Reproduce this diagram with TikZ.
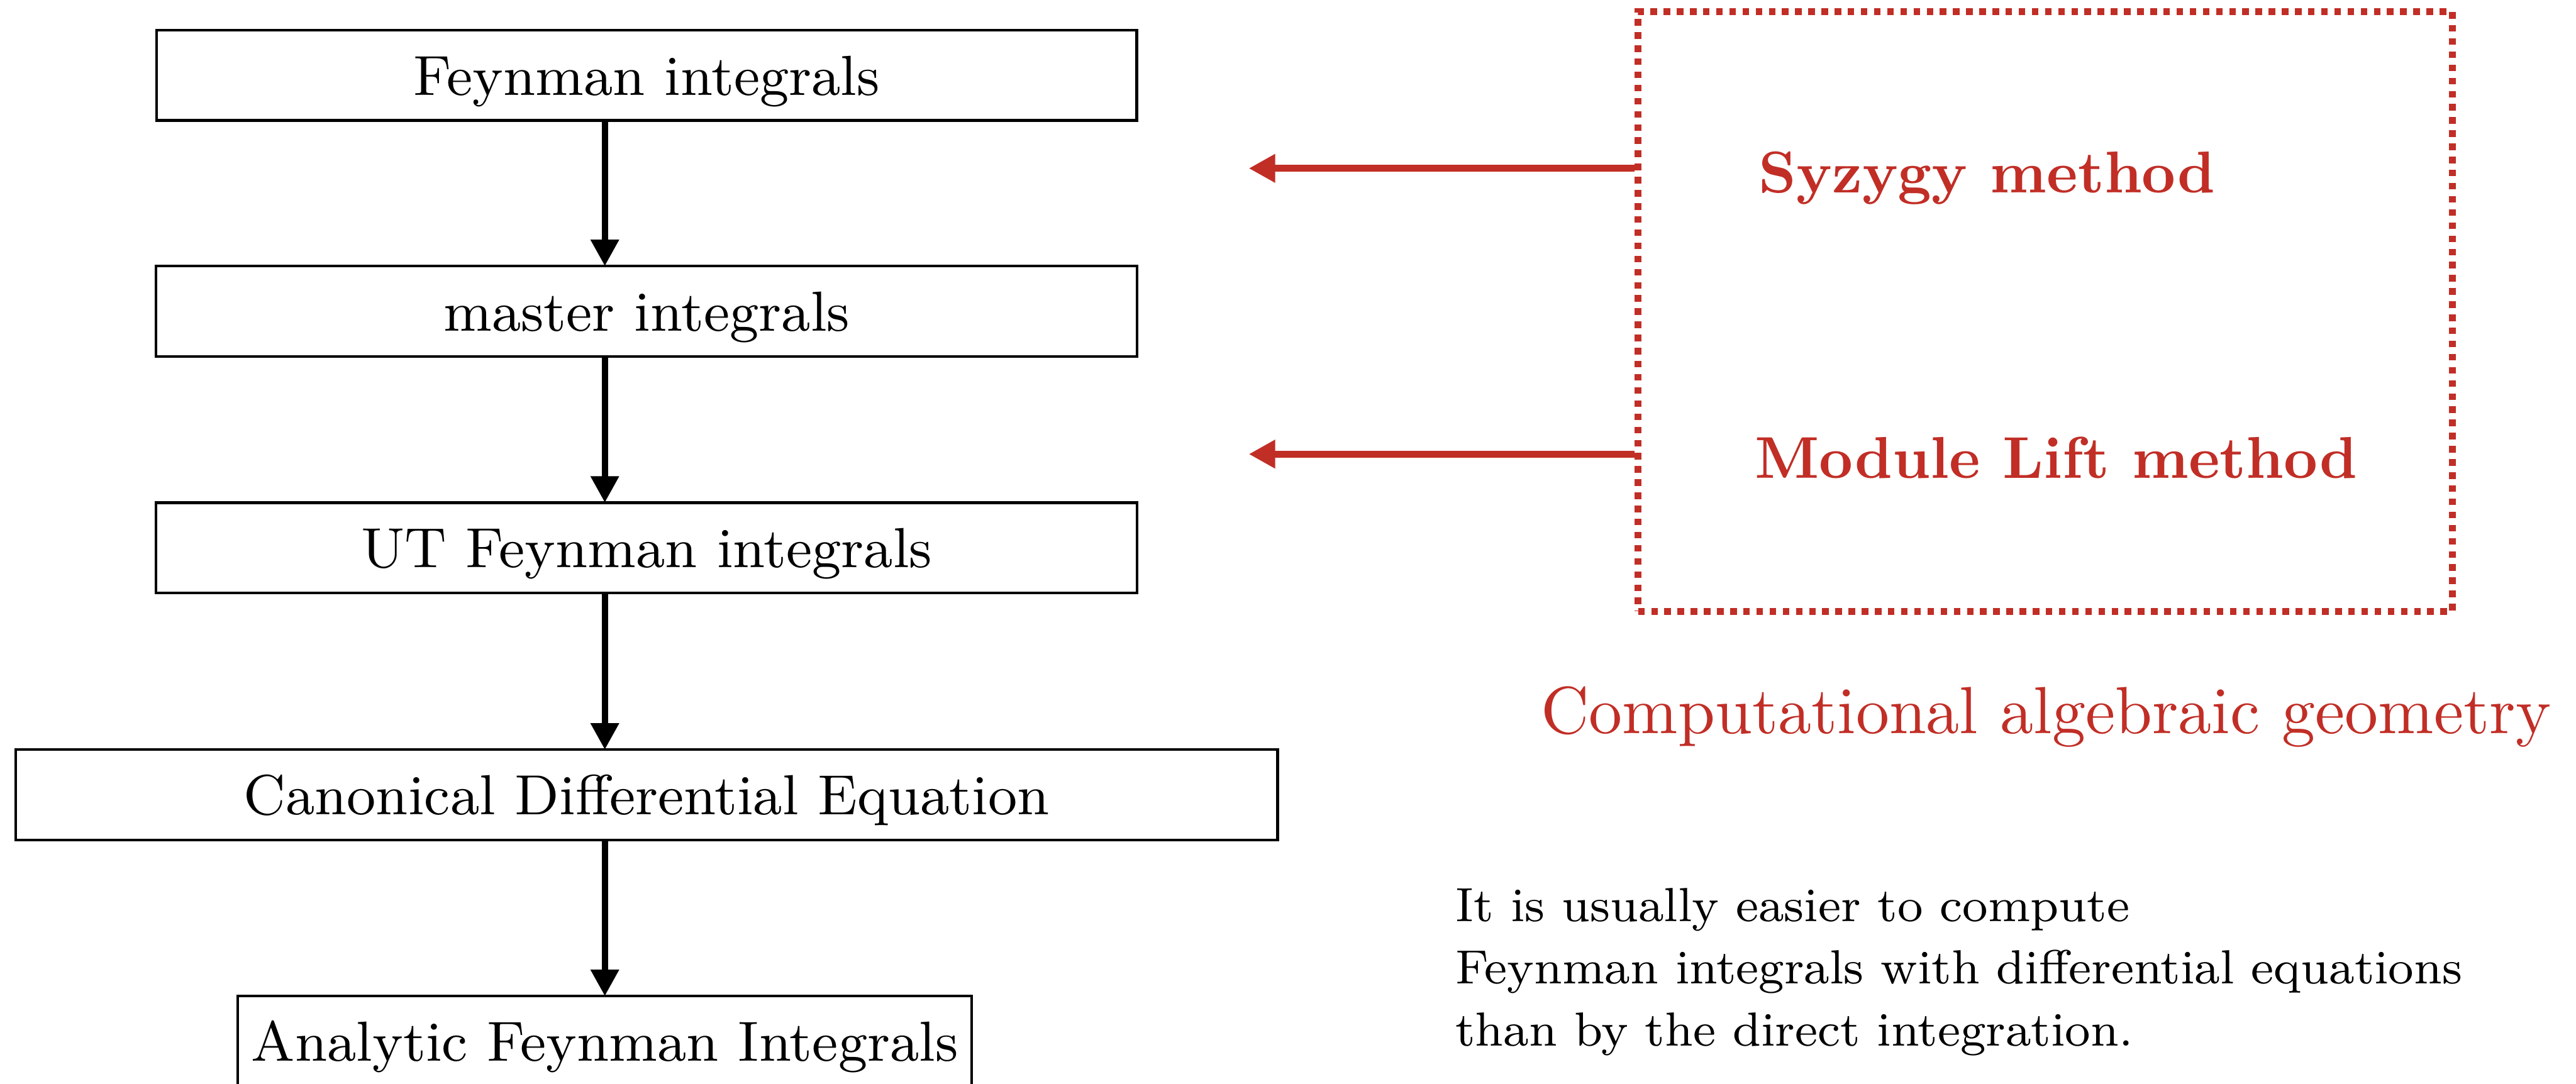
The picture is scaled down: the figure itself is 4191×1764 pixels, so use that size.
\documentclass[tikz,border=0pt]{standalone}
\usepackage{tikz}
\usepackage{xcolor}
\usetikzlibrary{
arrows.meta,
positioning,
calc
}
\definecolor{cagred}{RGB}{193,46,38}

\begin{document}
\begin{tikzpicture}[
    x=0.1pt, y=0.1pt,
    >={Triangle[length=4.3pt, width=4.4pt]},
    box/.style={draw,
      line width=0.45pt,
      outer sep=0pt,
      inner sep=0pt,
      minimum height=14.7pt,
      text height=0.85em,
      text depth=0.2em,
      font=\fontsize{9.2}{11}\selectfont},
    flow/.style={->, line width=1pt},
    dotbox/.style={draw=cagred,
      line width=1.07pt,
      dash pattern=on 1.07pt off 1.07pt,
      minimum width=132.5pt,
      minimum height=97.6pt},
    method/.style={anchor=west, inner sep=0pt, text=cagred,
      text height=0.79em, text depth=0pt,
      font=\fontsize{9.6}{11}\selectfont\bfseries},
    push/.style={->, draw=cagred, line width=1.1pt},
    note/.style={align=left, inner sep=0pt, font=\fontsize{7.8}{10.16}\selectfont}
  ]
  \useasboundingbox (0,0) rectangle (4191,1764);

  % left column
  \node[box, minimum width=159.5pt] (FI) at (1052,1641.5) {Feynman integrals};
  \node[box, minimum width=159.6pt, below=23.7pt of FI] (MI) {master integrals};
  \node[box, minimum width=159.6pt, below=23.8pt of MI] (UT) {UT Feynman integrals};
  \node[box, minimum width=205.3pt, below=25.5pt of UT] (CDE) {Canonical Differential Equation};
  \node[box, minimum width=119.4pt, below=25.4pt of CDE, xshift=-6.8pt] (AF) {Analytic Feynman Integrals};

  \draw[flow] (FI.south -| AF.north) -- (MI.north -| AF.north);
  \draw[flow] (MI.south -| AF.north) -- (UT.north -| AF.north);
  \draw[flow] (UT.south -| AF.north) -- (CDE.north -| AF.north);
  \draw[flow] (CDE.south -| AF.north) -- (AF.north);

  % right part
  \node[dotbox] (CAG) at (3327.5,1257) {};
  \node[method] (SY) at (2859,1490) {Syzygy method};
  \node[method] (ML) at (2853,1025) {Module Lift method};

  \draw[push] (CAG.west |- SY.west) -- ++(-628,0);
  \draw[push] (CAG.west |- ML.west) -- ++(-628,0);

  \node[anchor=base west, inner sep=0pt, text=cagred,
    font=\fontsize{10.85}{13}\selectfont] (CAGlbl) at (2505,570) {Computational algebraic geometry};

  \node[note, anchor=north west] (NT) at (2366,321) {It is usually easier to compute\\
    Feynman integrals with differential equations\\
    than by the direct integration.};
\end{tikzpicture}
\end{document}
